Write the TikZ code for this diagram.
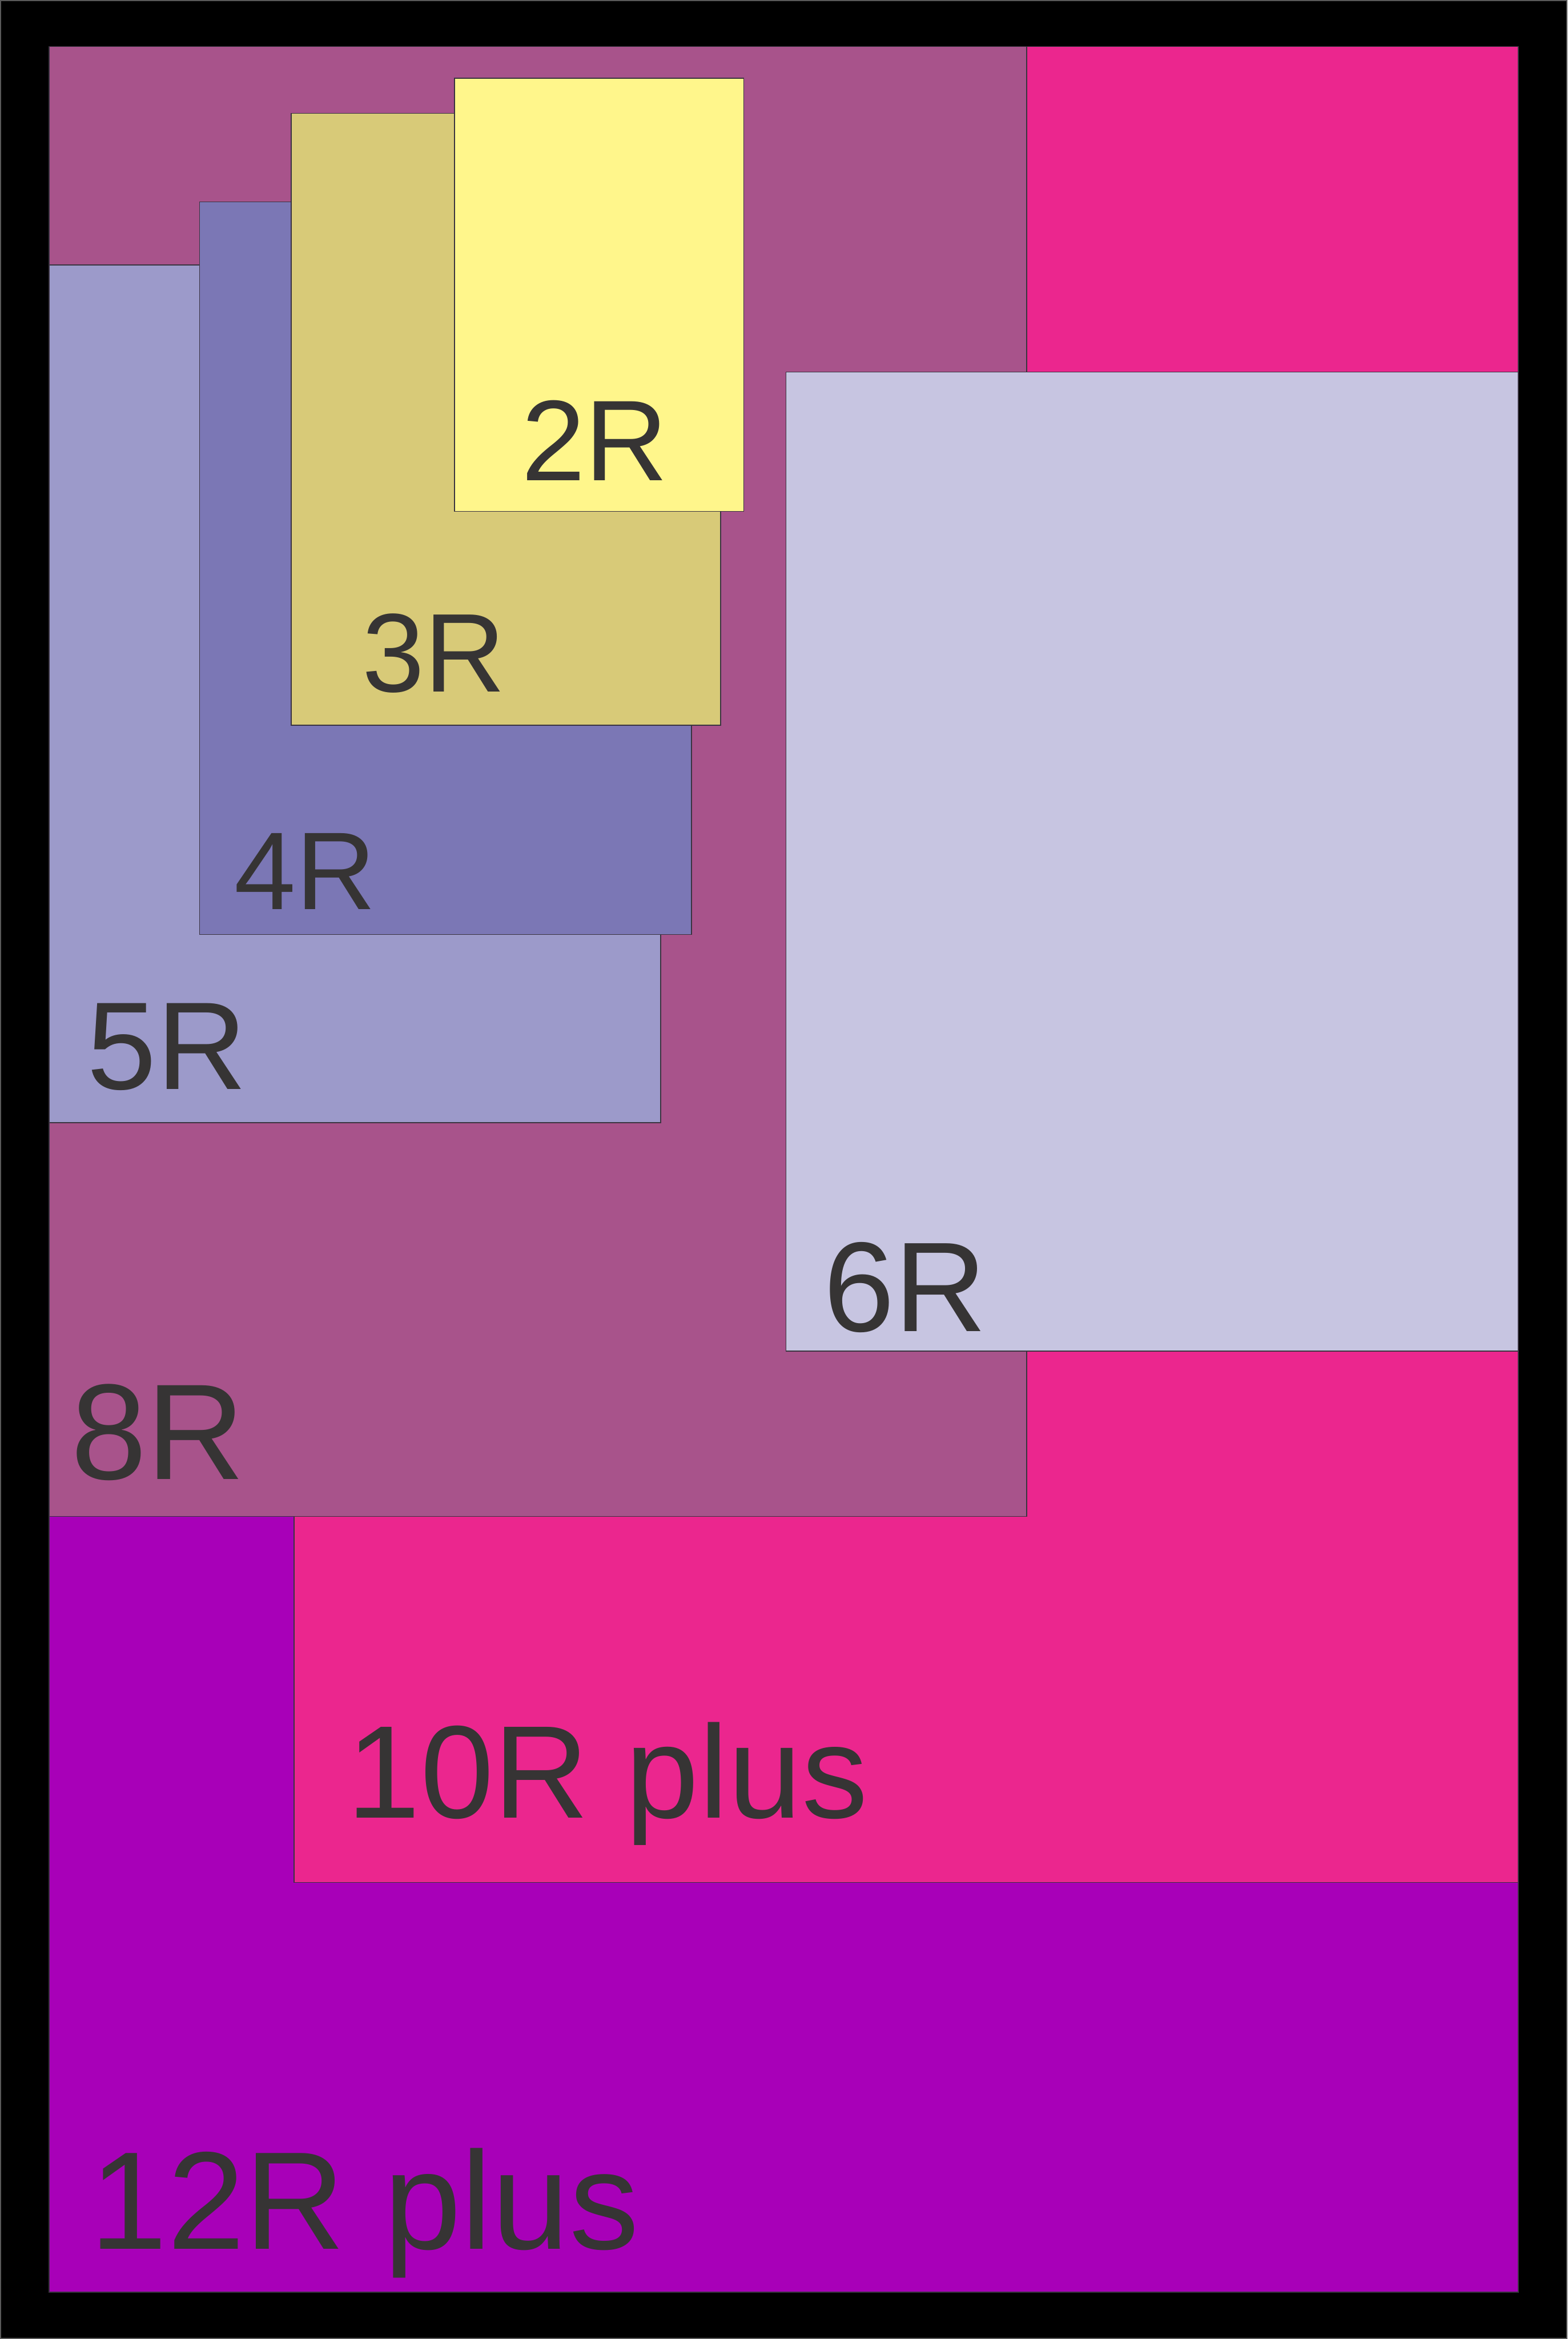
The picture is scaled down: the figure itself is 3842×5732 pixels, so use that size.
\documentclass[tikz,border=0pt]{standalone}
\usepackage{fontspec}
\setmainfont{Liberation Sans}

\definecolor{ink}{HTML}{363434}
\definecolor{edge}{HTML}{3A3440}
\definecolor{twelve}{HTML}{A800B8}
\definecolor{ten}{HTML}{EB268E}
\definecolor{eight}{HTML}{A8538B}
\definecolor{six}{HTML}{C7C5E1}
\definecolor{five}{HTML}{9C9ACA}
\definecolor{four}{HTML}{7B77B5}
\definecolor{three}{HTML}{D8CA78}
\definecolor{two}{HTML}{FFF68B}

\newcommand{\sz}[1]{\fontsize{#1}{#1}\selectfont}

\begin{document}
\begin{tikzpicture}[x=0.01cm,y=-0.01cm,
  print/.style={draw=edge,line width=0.6pt},
  lbl/.style={anchor=base west,inner sep=0pt,text=ink}]
\useasboundingbox (0,0) rectangle (3842,5732);
\draw[fill=black,draw=black!65,line width=0.8pt] (2,2) rectangle (3840,5730);

\draw[print,fill=twelve] (120,114) rectangle (3721,5617);
\draw[print,fill=ten] (721,114) rectangle (3721,4613);
\draw[print,fill=eight] (120,114) rectangle (2516,3716);
\draw[print,fill=six] (1926,912) rectangle (3721,3311);
\draw[print,fill=five] (120,649) rectangle (1619,2751);
\draw[print,fill=four] (489,495) rectangle (1695,2290);
\draw[print,fill=three] (714,278) rectangle (1766,1777);
\draw[print,fill=two] (1114,192) rectangle (1823,1253);

\node[lbl,font=\sz{97}] (r12) at (220,5512) {12R plus};
\node[lbl,font=\sz{92}] (r10) at (850,4455) {10R plus};
\node[lbl,font=\sz{95}] (r8) at (173,3625) {8R};
\node[lbl,font=\sz{89}] (r6) at (2018,3262) {6R};
\node[lbl,font=\sz{87}] (r5) at (213,2669) {5R};
\node[lbl,font=\sz{77}] (r4) at (574,2229) {4R};
\node[lbl,font=\sz{78}] (r3) at (887,1695) {3R};
\node[lbl,font=\sz{80}] (r2) at (1277,1178) {2R};
\end{tikzpicture}
\end{document}
